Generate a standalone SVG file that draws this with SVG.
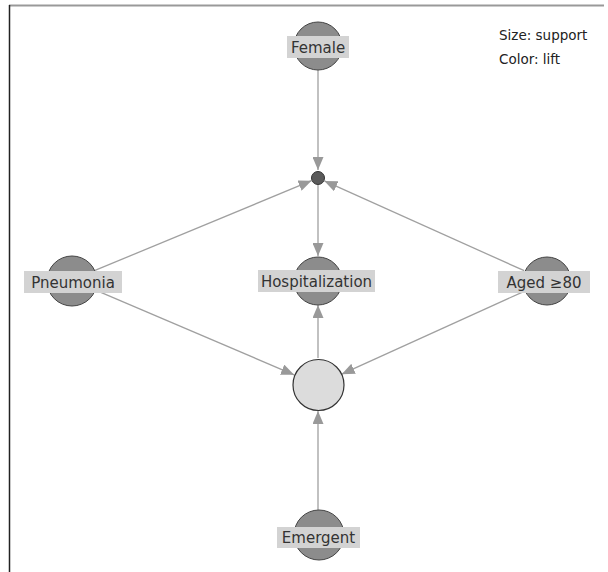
<svg xmlns="http://www.w3.org/2000/svg" width="608" height="572" viewBox="0 0 608 572">
<style>
.bg{fill:#ffffff}
.node{fill:#8c8c8c;stroke:#444;stroke-width:1}
.hub{fill:#5a5a5a;stroke:#333;stroke-width:1}
.rule{fill:#dcdcdc;stroke:#333;stroke-width:1.2}
.lbl{fill:#d3d3d3}
.txt{font-family:"Century Gothic","URW Gothic","DejaVu Sans",sans-serif;font-size:15px;fill:#333;text-anchor:middle}
.leg{font-family:"Century Gothic","URW Gothic","DejaVu Sans",sans-serif;font-size:13.5px;fill:#222}
.edge{stroke:#a0a0a0;stroke-width:1.3;fill:none;marker-end:url(#arr)}
</style>
<defs>
<marker id="arr" markerUnits="userSpaceOnUse" markerWidth="13" markerHeight="11" refX="13" refY="5.5" orient="auto">
<path d="M0,0 L13,5.5 L0,11 z" fill="#999"/>
</marker>
</defs>
<rect class="bg" x="0" y="0" width="608" height="572"/>
<line x1="9" y1="5.5" x2="604" y2="5.5" stroke="#999" stroke-width="2"/>
<line x1="9.5" y1="5" x2="9.5" y2="572" stroke="#222" stroke-width="1.5"/>
<g id="edges">
<line class="edge" x1="318" y1="70" x2="318" y2="170"/>
<line class="edge" x1="95" y1="270.4" x2="311.5" y2="180.7"/>
<line class="edge" x1="524.2" y1="270.7" x2="324.4" y2="180.9"/>
<line class="edge" x1="318" y1="185" x2="318" y2="256"/>
<line class="edge" x1="95" y1="289.8" x2="294.1" y2="374.8"/>
<line class="edge" x1="524.2" y1="291.3" x2="341.7" y2="374.2"/>
<line class="edge" x1="318" y1="358" x2="318" y2="305"/>
<line class="edge" x1="318" y1="510" x2="318" y2="411"/>
</g>
<g id="female">
<circle class="node" cx="318" cy="46" r="24"/>
<rect class="lbl" x="287" y="36" width="62" height="22"/>
<text class="txt" x="318" y="52.5">Female</text>
</g>
<g id="hub">
<circle class="hub" cx="318" cy="178" r="6.5"/>
</g>
<g id="pneumonia">
<circle class="node" cx="72" cy="281" r="25"/>
<rect class="lbl" x="24" y="271" width="98" height="22"/>
<text class="txt" x="73" y="287.5">Pneumonia</text>
</g>
<g id="hospitalization">
<circle class="node" cx="318" cy="281" r="24"/>
<rect class="lbl" x="258" y="270" width="117" height="22"/>
<text class="txt" x="316.5" y="286.5">Hospitalization</text>
</g>
<g id="aged">
<circle class="node" cx="547" cy="281" r="24"/>
<rect class="lbl" x="498" y="271" width="92" height="22"/>
<text class="txt" x="544" y="287.5">Aged ≥80</text>
</g>
<g id="rule">
<circle class="rule" cx="318.5" cy="385" r="25.5"/>
</g>
<g id="emergent">
<circle class="node" cx="319" cy="535" r="25"/>
<rect class="lbl" x="277" y="527" width="83" height="21"/>
<text class="txt" x="318.5" y="543">Emergent</text>
</g>
<g id="legend">
<text class="leg" x="499" y="40">Size: support</text>
<text class="leg" x="499" y="64">Color: lift</text>
</g>
</svg>
